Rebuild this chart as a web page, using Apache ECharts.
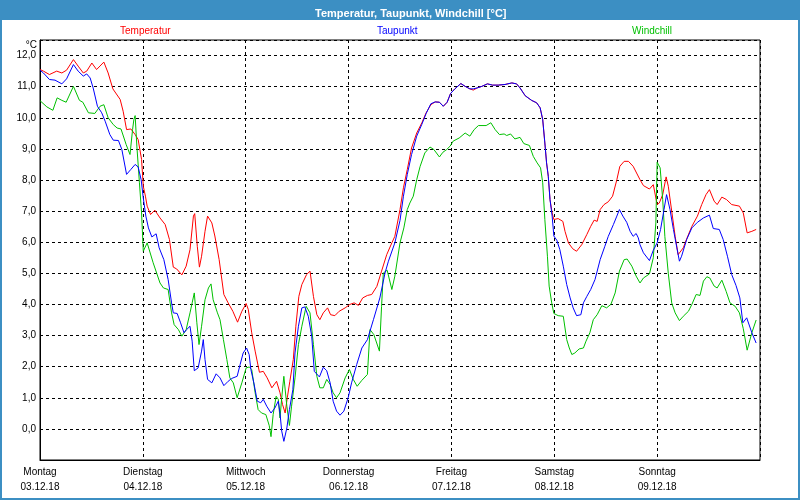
<!DOCTYPE html>
<html><head><meta charset="utf-8">
<script src="https://cdn.jsdelivr.net/npm/echarts@6/dist/echarts.min.js"></script>
<style>html,body{margin:0;padding:0;background:#fff}#c{width:800px;height:500px}</style>
</head><body><div id="c"></div>
<script>
const chartTitle = 'Temperatur, Taupunkt, Windchill [°C]';
const seriesNames = ['Temperatur', 'Taupunkt', 'Windchill'];
const dayNames = ['Montag', 'Dienstag', 'Mittwoch', 'Donnerstag', 'Freitag', 'Samstag', 'Sonntag'];
const dayDates = ['03.12.18', '04.12.18', '05.12.18', '06.12.18', '07.12.18', '08.12.18', '09.12.18'];
const yUnit = '°C';

// [hour since Mon 03.12.18 00:00, °C]
const temperatur = [[0,11.55],[0.8,11.5],[2.2,11.39],[3.9,11.5],[5.1,11.44],[6.2,11.53],[7.8,11.87],[8.9,11.66],[10.1,11.44],[10.9,11.5],[12.1,11.76],[13.2,11.55],[14.9,11.79],[15.9,11.44],[17.0,10.93],[18.7,10.59],[19.4,10.21],[20.2,9.62],[21.2,9.64],[22.2,9.46],[22.9,9.3],[23.7,8.66],[24.1,7.8],[24.6,7.48],[25.0,7.16],[25.8,6.89],[26.8,7.03],[28.0,6.78],
[29.2,6.57],[30.2,6.09],[31.1,5.2],[31.9,5.14],[33.1,4.95],[34.1,5.23],[35.0,5.76],[35.8,6.84],[36.1,6.92],[36.7,5.87],[37.2,5.2],[37.7,5.55],[38.5,6.35],[39.1,6.84],[40.1,6.62],[40.8,6.2],[41.8,5.44],[42.9,4.32],[43.9,4.05],[45.0,3.78],[46.1,3.43],[47.1,3.78],[48.1,4.03],[48.6,3.84],[49.4,3.09],[50.2,2.5],[51.2,1.82],[52.1,1.85],[53.0,1.64],[54.1,1.32],[55.2,1.53],[56.0,1.16],
[56.6,0.78],[57.2,0.51],[57.7,1.0],[58.3,1.53],[59.1,2.23],[59.7,3.3],[60.4,4.26],[61.1,4.64],[62.2,4.96],[63.0,5.07],[63.8,4.26],[64.6,3.67],[65.3,3.51],[66.1,3.73],[67.1,3.89],[67.8,3.67],[68.8,3.64],[69.8,3.78],[71.2,3.89],[72.3,4.0],[73.3,4.05],[74.3,3.97],[75.3,4.21],[76.4,4.29],[77.4,4.32],[78.6,4.58],[79.7,5.07],[80.9,5.6],[82.1,5.98],[82.8,6.19],[84.0,7.05],
[84.8,7.75],[85.7,8.34],[86.7,9.03],[87.9,9.51],[89.1,9.84],[90.1,10.16],[91.2,10.42],[92.2,10.51],[93.2,10.5],[94.1,10.37],[95.0,10.5],[95.8,10.78],[96.8,10.93],[98.2,11.1],[99.2,11.01],[100.3,10.93],[101.1,10.89],[102.0,10.96],[103.1,11.01],[104.4,11.09],[105.6,11.05],[106.9,11.05],[108.5,11.07],[110.1,11.12],[111.2,11.09],[112.0,10.96],
[113.2,10.71],[114.7,10.56],[115.9,10.48],[116.7,10.32],[117.3,9.94],[117.8,9.19],[118.2,8.55],[118.6,8.12],[119.0,7.37],[119.5,6.94],[119.9,6.73],[120.9,6.76],[122.0,6.67],[122.5,6.35],[123.3,5.98],[124.3,5.79],[125.2,5.71],[126.4,5.92],[127.6,6.25],[128.5,6.51],[129.3,6.71],[130.0,6.67],[130.7,7.05],[131.6,7.21],[132.6,7.3],[133.6,7.48],[134.6,8.01],[135.3,8.44],[136.3,8.6],[137.3,8.6],[138.4,8.44],[140.0,8.01],
[140.8,7.82],[142.2,7.71],[143.1,7.85],[144.0,7.21],[144.5,7.26],[145.3,7.53],[146.1,8.1],[146.6,7.8],[147.4,7.0],[148.2,6.19],[148.9,5.6],[149.3,5.57],[150.1,5.82],[150.9,6.11],[152.1,6.51],[153.4,6.84],[154.4,7.21],[155.4,7.53],[156.2,7.69],[157.3,7.32],[158.0,7.21],[159.1,7.45],[160.2,7.37],[161.4,7.21],[163.2,7.16],[164.1,6.94],[165.0,6.3],[166.1,6.35],[167.1,6.41]];

const taupunkt = [[0,11.53],[0.8,11.44],[2.2,11.23],[3.5,11.21],[5.1,11.09],[6.2,11.25],[7.8,11.71],[8.9,11.5],[10.1,11.34],[10.9,11.41],[11.7,11.28],[12.4,10.96],[13.4,10.37],[14.4,10.16],[15.2,9.89],[16.3,9.46],[17.1,9.28],[18.3,9.27],[19.1,8.98],[20.2,8.18],[21.2,8.34],[22.2,8.5],[22.9,8.42],[23.6,8.01],[24.1,7.42],[24.7,6.84],[25.3,6.46],[26.1,6.17],[27.1,6.27],[27.8,5.82],
[28.9,5.44],[29.9,4.8],[30.7,4.05],[31.1,3.73],[32.0,3.71],[32.8,3.41],[33.6,3.09],[34.2,3.19],[35.0,3.3],[35.5,2.82],[36.0,1.87],[36.9,1.96],[37.7,2.5],[38.1,2.87],[38.5,2.23],[39.1,1.59],[40.1,1.48],[41.1,1.77],[42.0,1.64],[42.9,1.39],[43.9,1.53],[44.7,1.62],[46.0,1.69],[46.7,2.07],[47.4,2.44],[48.2,2.6],[48.8,2.39],[49.2,1.91],[49.9,1.48],[50.7,0.89],[51.5,0.84],[52.1,0.95],[52.9,0.73],[53.9,0.51],[54.8,0.67],[55.6,0.89],[56.0,0.5],
[56.4,-0.07],[56.9,-0.4],[57.6,0.03],[58.2,0.62],[59.0,1.26],[59.5,2.44],[60.3,3.3],[61.1,3.89],[61.8,3.92],[62.6,3.62],[63.4,2.98],[64.0,1.85],[65.2,1.67],[66.1,1.98],[66.9,1.87],[67.7,1.48],[68.4,0.89],[69.2,0.57],[70.0,0.44],[70.9,0.57],[71.9,1.0],[72.7,1.48],[73.9,2.07],[75.1,2.6],[76.4,2.87],[77.8,3.51],[79.3,4.21],[80.5,5.01],[81.3,5.39],[82.8,5.98],[84.0,6.7],
[84.8,7.48],[85.7,8.18],[86.7,8.82],[87.9,9.41],[89.1,9.79],[90.1,10.14],[91.2,10.45],[92.2,10.51],[93.2,10.5],[94.1,10.37],[95.0,10.5],[95.8,10.78],[96.8,10.93],[98.2,11.1],[99.2,11.01],[100.3,10.93],[101.1,10.93],[102.0,10.96],[103.1,11.01],[104.4,11.09],[105.6,11.05],[106.9,11.05],[108.5,11.07],[110.1,11.12],[111.2,11.09],[112.0,10.96],
[113.2,10.71],[114.7,10.56],[115.9,10.48],[116.7,10.32],[117.3,9.94],[117.8,9.19],[118.2,8.55],[118.6,8.12],[119.0,7.37],[119.5,6.84],[119.9,6.2],[120.6,6.06],[121.3,5.76],[122.1,5.23],[122.9,4.64],[123.7,4.21],[124.4,3.89],[125.2,3.64],[126.2,3.67],[126.8,4.05],[127.6,4.26],[128.5,4.48],[129.5,4.8],[130.7,5.44],[131.8,5.87],[132.6,6.19],[133.8,6.57],[134.6,6.84],[135.2,7.05],[136.0,6.84],[136.9,6.64],[137.7,6.35],[138.4,6.19],[139.1,6.28],[139.6,6.14],[140.0,5.92],
[140.8,5.66],[142.2,5.41],[143.1,5.74],[144.0,5.98],[144.8,6.41],[145.6,7.05],[146.2,7.53],[147.0,7.05],[147.8,6.41],[148.6,5.82],[149.2,5.39],[149.7,5.55],[150.9,6.09],[152.1,6.46],[153.4,6.64],[154.8,6.78],[156.2,6.87],[157.1,6.44],[158.5,6.41],[159.4,6.09],[160.4,5.55],[161.4,4.96],[162.4,4.61],[163.3,4.21],[164.0,3.41],[164.9,3.57],[166.1,3.09],[167.1,2.76]];

const windchill = [[0,10.55],[1.6,10.35],[3.0,10.24],[4.0,10.64],[5.1,10.56],[6.1,10.5],[7.8,11.01],[9.2,10.56],[10.0,10.5],[11.3,10.16],[12.8,10.14],[14.0,10.37],[14.9,10.42],[15.9,10.0],[17.1,9.78],[18.0,9.67],[18.9,9.64],[20.1,9.14],[21.0,8.82],[21.6,9.62],[21.9,9.94],[22.2,10.07],[22.6,9.09],[23.2,7.91],[23.7,6.94],[24.1,5.71],[25.0,5.98],[26.4,5.34],[28.0,4.69],
[28.8,4.53],[29.9,4.48],[30.7,3.73],[31.3,3.35],[32.3,3.19],[33.1,2.98],[34.1,3.19],[35.0,3.73],[35.5,4.05],[36.0,4.37],[36.6,3.41],[37.1,2.71],[37.7,3.3],[38.5,4.15],[39.3,4.53],[39.9,4.66],[40.4,4.15],[41.4,3.73],[42.0,3.51],[42.8,2.87],[43.6,2.23],[44.3,1.64],[45.1,1.48],[46.0,1.0],[47.1,1.48],[48.1,1.96],[48.8,1.99],[49.4,1.91],[50.2,1.16],[50.9,0.62],[51.7,0.51],[52.7,0.46],[53.5,0.1],[53.9,-0.25],[54.4,0.46],[55.1,1.05],[55.6,0.95],[56.0,0.35],
[56.4,1.0],[56.9,1.69],[57.6,0.73],[58.2,0.11],[58.7,0.73],[59.5,1.64],[60.3,2.71],[61.1,3.3],[62.1,3.94],[63.0,3.73],[63.8,2.71],[64.6,1.69],[65.3,1.32],[66.1,1.32],[66.9,1.59],[67.7,1.43],[68.4,1.16],[69.2,1.0],[70.0,1.16],[71.2,1.64],[72.2,1.91],[73.1,1.59],[74.0,1.37],[75.1,1.56],[76.4,1.75],[77.0,3.19],[77.9,3.03],[79.2,2.5],[79.7,3.94],[80.1,5.01],[81.0,5.1],[82.1,4.48],[82.8,4.91],[84.0,5.98],
[84.9,6.46],[85.7,7.05],[86.3,7.26],[87.1,7.48],[87.9,8.01],[88.7,8.44],[89.8,8.87],[91.0,9.06],[91.9,8.98],[93.2,8.74],[94.0,8.89],[94.9,8.98],[95.7,9.09],[96.4,9.25],[97.8,9.35],[99.2,9.51],[100.3,9.41],[101.3,9.62],[102.3,9.75],[104.1,9.75],[105.2,9.84],[106.2,9.62],[107.2,9.46],[108.3,9.48],[108.9,9.43],[109.8,9.48],[110.8,9.32],[112.0,9.37],
[112.9,9.17],[114.2,9.11],[115.1,8.76],[116.0,8.55],[116.8,8.39],[117.3,7.91],[117.8,6.73],[118.4,5.55],[118.8,4.59],[119.4,4.05],[119.9,3.71],[120.9,3.64],[122.1,3.62],[122.9,2.87],[123.5,2.6],[124.1,2.39],[124.8,2.44],[125.8,2.57],[126.8,2.6],[127.4,2.82],[128.3,3.09],[129.1,3.51],[130.0,3.67],[131.1,3.96],[132.2,3.89],[133.2,4.0],[134.2,4.37],[135.2,5.07],[136.3,5.44],[137.0,5.46],[138.1,5.23],[139.1,4.91],[140.0,4.69],
[140.8,4.85],[142.2,4.98],[143.1,5.5],[143.7,6.62],[144.0,8.57],[144.7,8.39],[145.3,7.37],[145.8,6.19],[146.6,5.0],[147.4,4.05],[148.2,3.73],[149.2,3.48],[150.1,3.62],[151.3,3.78],[152.1,4.0],[153.1,4.32],[154.0,4.29],[154.8,4.75],[155.6,4.89],[156.3,4.85],[157.3,4.59],[158.0,4.53],[159.1,4.78],[160.1,4.42],[161.0,4.05],[162.2,3.94],[163.2,3.73],[164.1,3.22],[165.0,2.53],[166.1,3.09],[167.1,3.5]];

const colors = ['#ff0000', '#0000ff', '#00c000'];
const FONT = '"Liberation Sans", Arial, sans-serif';
const frameBlue = '#3c8fc3';

const chart = echarts.init(document.getElementById('c'), null, {renderer: 'canvas'});
const legendLeft = [115, 372, 627];
chart.setOption({
  animation: false,
  backgroundColor: '#fff',
  title: {
    text: chartTitle, left: 310, top: 3, z: 10,
    textStyle: {color: '#fff', fontWeight: 'bold', fontSize: 11, fontFamily: FONT}
  },
  graphic: [
    {type: 'rect', z: 1, shape: {x: 0, y: 0, width: 800, height: 20}, style: {fill: frameBlue}},
    {type: 'rect', z: 1, shape: {x: 1, y: 1, width: 798, height: 498}, style: {fill: null, stroke: frameBlue, lineWidth: 2}}
  ],
  legend: seriesNames.map((n, i) => ({
    data: [n], left: legendLeft[i], top: 24, icon: 'none', itemWidth: 0, itemGap: 0, padding: 0,
    selectedMode: false,
    textStyle: {color: colors[i], fontSize: 10, fontFamily: FONT, padding: 0}
  })),
  grid: {left: 40, top: 40, width: 720, height: 420, show: true, borderColor: '#000', borderWidth: 1, backgroundColor: '#fff'},
  xAxis: {
    type: 'value', min: 0, max: 168, interval: 24,
    axisLine: {onZero: false, lineStyle: {color: '#000', width: 1}},
    axisTick: {show: false},
    splitLine: {show: true, lineStyle: {color: '#000', type: [3, 3], width: 1}},
    axisLabel: {
      margin: 5, color: '#000', fontSize: 10, fontFamily: FONT, lineHeight: 15,
      formatter: v => { const d = Math.round(v / 24); return d < 7 ? dayNames[d] + '\n' + dayDates[d] : ''; }
    }
  },
  yAxis: {
    type: 'value', min: -1, max: 12.5, interval: 1,
    name: yUnit, nameLocation: 'end', nameGap: -5,
    nameTextStyle: {align: 'right', verticalAlign: 'middle', color: '#000', fontSize: 10, fontFamily: FONT, padding: [0, 3, 0, 0]},
    axisLine: {onZero: false, lineStyle: {color: '#000', width: 1}},
    axisTick: {show: false},
    splitLine: {show: true, lineStyle: {color: '#000', type: [3, 3], width: 1}},
    axisLabel: {
      margin: 4, color: '#000', fontSize: 10, fontFamily: FONT,
      formatter: v => (v < 0 || v > 12) ? '' : v.toFixed(1).replace('.', ',')
    }
  },
  series: [temperatur, taupunkt, windchill].map((d, i) => ({
    name: seriesNames[i], type: 'line', data: d, showSymbol: false, symbol: 'none',
    lineStyle: {color: colors[i], width: 1}, itemStyle: {color: colors[i]}, z: 3 + (i === 1 ? 1 : 0)
  }))
});
</script></body></html>
